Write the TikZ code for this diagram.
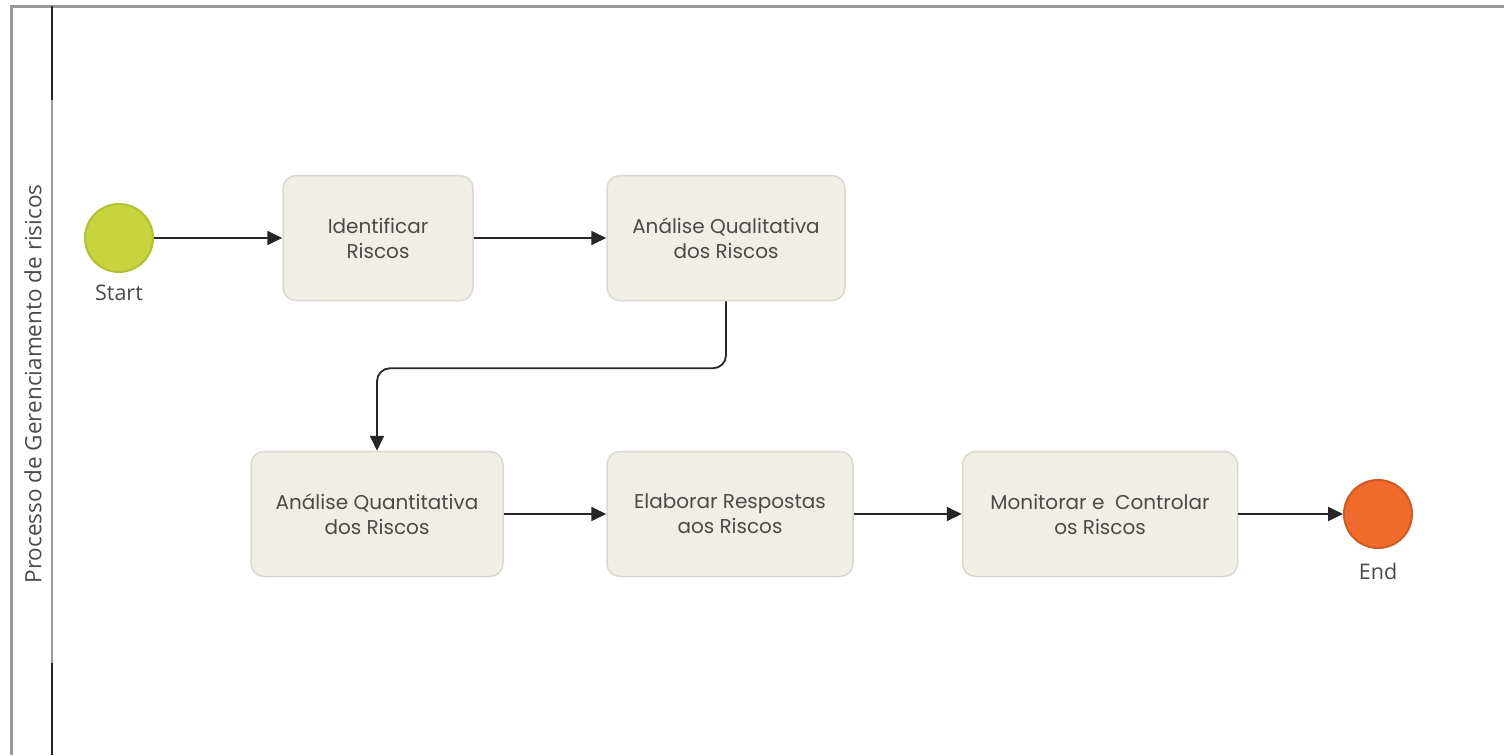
\documentclass[tikz,border=0pt]{standalone}
\usepackage{fontspec}
\setmainfont{Poppins}
\newfontfamily\lanefont{Open Sans}
\usetikzlibrary{positioning,arrows.meta}
\definecolor{boxfill}{HTML}{F0EEE6}
\definecolor{boxline}{HTML}{DAD8CE}
\definecolor{startfill}{HTML}{C6D43D}
\definecolor{startline}{HTML}{B2C036}
\definecolor{endfill}{HTML}{F06A2C}
\definecolor{endline}{HTML}{CF5A26}
\definecolor{txt}{HTML}{4A4A4A}
\definecolor{frame}{HTML}{9A9A9A}
\tikzset{
  task/.style={draw=boxline, line width=1.5pt, fill=boxfill, rounded corners=13pt,
    minimum height=125pt, align=center, text=txt, font=\fontsize{20}{25}\selectfont},
  event/.style={circle, line width=2pt, minimum size=68pt, inner sep=0pt},
  evlabel/.style={text=txt, font=\lanefont\fontsize{21.5}{24}\selectfont},
  flow/.style={line width=1.8pt, draw=black!85, -{Triangle[length=15pt,width=14pt]}}
}
\begin{document}
\begin{tikzpicture}[x=1pt, y=-1pt]
  \useasboundingbox (0,0) rectangle (1504,755);
  % pool frame
  \draw[frame, line width=3pt] (11,755) -- (11,6) -- (1504,6);
  \draw[frame, line width=2.5pt] (52,6) -- (52,755);
  \draw[black!85, line width=2.5pt] (52,6) -- (52,100) (52,663) -- (52,755);
  \node[evlabel, font=\lanefont\fontsize{22.5}{26}\selectfont, rotate=90] (lane) at (33,384) {Processo de Gerenciamento de risicos};
  % events and tasks
  \node[event, fill=startfill, draw=startline] (start) at (119,238) {};
  \node[evlabel, below=8pt of start] (startlbl) {Start};
  \node[task, minimum width=190pt] (ident) at (378,238) {Identificar\\Riscos};
  \node[task, minimum width=238pt] (qual) at (726,238) {Análise Qualitativa\\dos Riscos};
  \node[task, minimum width=252pt] (quant) at (377,514) {Análise Quantitativa\\dos Riscos};
  \node[task, minimum width=246pt] (elab) at (730,514) {Elaborar Respostas\\aos Riscos};
  \node[task, minimum width=275pt] (moni) at (1100,514) {Monitorar e\ \ Controlar\\os Riscos};
  \node[event, fill=endfill, draw=endline] (end) at (1378,514) {};
  \node[evlabel, below=11pt of end] (endlbl) {End};
  % sequence flows
  \draw[flow] (start) -- (ident);
  \draw[flow] (ident) -- (qual);
  \draw[flow, rounded corners=13pt] (qual.south) -- ++(0,67) -| (quant.north);
  \draw[flow] (quant) -- (elab);
  \draw[flow] (elab) -- (moni);
  \draw[flow] (moni) -- (end);
\end{tikzpicture}
\end{document}
